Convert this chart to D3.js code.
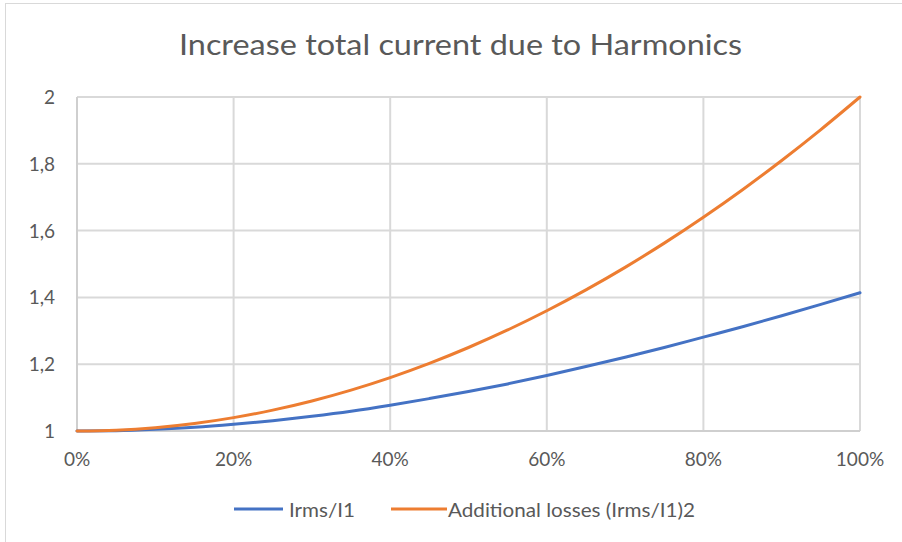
<!DOCTYPE html>
<html><head><meta charset="utf-8">
<script src="https://cdn.jsdelivr.net/npm/d3@7"></script>
<style>body{margin:0;background:#fff}svg{display:block}text{font-family:Lato,"Open Sans",sans-serif;fill:#595959}</style>
</head><body><svg id="c" width="902" height="542"></svg>
<script>
const thd = [0,0.05,0.1,0.15,0.2,0.25,0.3,0.35,0.4,0.45,0.5,0.55,0.6,0.65,0.7,0.75,0.8,0.85,0.9,0.95,1];
const irms = [1,1.001,1.005,1.011,1.020,1.031,1.044,1.059,1.077,1.097,1.118,1.141,1.166,1.193,1.221,1.250,1.281,1.312,1.345,1.379,1.414];
const losses = [1,1.0025,1.01,1.0225,1.04,1.0625,1.09,1.1225,1.16,1.2025,1.25,1.3025,1.36,1.4225,1.49,1.5625,1.64,1.7225,1.81,1.9025,2];
const xTicks = [0,0.2,0.4,0.6,0.8,1];
const yTicks = [1,1.2,1.4,1.6,1.8,2];
const seriesNames = ["Irms/I1","Additional losses (Irms/I1)2"];
const colors = ["#4472C4","#ED7D31"];

const svg = d3.select("#c");
// outer border (top/left visible)
svg.append("line").attr("x1",5).attr("x2",902).attr("y1",3.5).attr("y2",3.5).attr("stroke","#d9d9d9");
svg.append("line").attr("x1",5.5).attr("x2",5.5).attr("y1",3).attr("y2",542).attr("stroke","#d9d9d9");

const x = d3.scaleLinear().domain([0,1]).range([77,860]);
const y = d3.scaleLinear().domain([1,2]).range([431,97]);

svg.append("text").attr("x",179).attr("y",55)
  .attr("textLength",563).attr("lengthAdjust","spacingAndGlyphs")
  .style("font-size","29px").text("Increase total current due to Harmonics");

// grid
const g = svg.append("g");
g.selectAll(".hy").data(yTicks).join("line").attr("x1",x(0)).attr("x2",x(1))
  .attr("y1",d=>y(d)).attr("y2",d=>y(d)).attr("stroke","#d9d9d9").attr("stroke-width",2);
g.selectAll(".vx").data(xTicks).join("line").attr("y1",y(1)).attr("y2",y(2))
  .attr("x1",d=>x(d)).attr("x2",d=>x(d)).attr("stroke","#d9d9d9").attr("stroke-width",2);
// axes lines
g.append("line").attr("x1",x(0)).attr("x2",x(1)).attr("y1",y(1)).attr("y2",y(1)).attr("stroke","#cfcfcf").attr("stroke-width",2);
g.append("line").attr("x1",x(0)).attr("x2",x(0)).attr("y1",y(1)).attr("y2",y(2)).attr("stroke","#cfcfcf").attr("stroke-width",2);

const fmtY = d => d3.format(".1f")(d).replace(".0","").replace(".",",");
svg.selectAll(".yl").data(yTicks).join("text").attr("x",55).attr("y",d=>y(d)+7)
  .attr("text-anchor","end").style("font-size","19px").text(fmtY);
svg.selectAll(".xl").data(xTicks).join("text").attr("x",d=>x(d)).attr("y",466)
  .attr("text-anchor","middle").style("font-size","19px").text(d=>d3.format(".0%")(d));

const line = d3.line().x((d,i)=>x(thd[i])).y(d=>y(d)).curve(d3.curveMonotoneX);
[irms,losses].forEach((s,k)=>{
  svg.append("path").datum(s).attr("d",line).attr("fill","none")
    .attr("stroke",colors[k]).attr("stroke-width",3).attr("stroke-linecap","round");
});

// legend
const leg = [{x1:234,x2:283,tx:289,w:66},{x1:391,x2:447,tx:448,w:247}];
leg.forEach((l,k)=>{
  svg.append("line").attr("x1",l.x1).attr("x2",l.x2).attr("y1",509).attr("y2",509)
    .attr("stroke",colors[k]).attr("stroke-width",3);
  svg.append("text").attr("x",l.tx).attr("y",517).attr("textLength",l.w).attr("lengthAdjust","spacingAndGlyphs")
    .style("font-size","20px").text(seriesNames[k]);
});
</script></body></html>
